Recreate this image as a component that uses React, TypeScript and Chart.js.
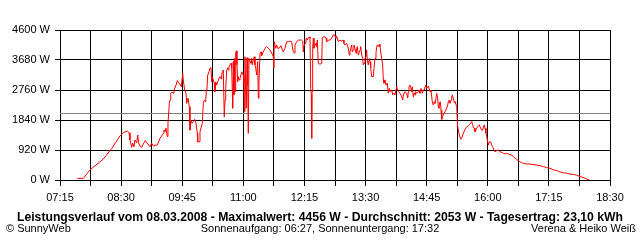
import { useEffect, useRef } from 'react';
import { Chart, registerables } from 'chart.js';

Chart.register(...registerables);

// time of day in minutes since midnight
const times = [
  456.2, 463.6, 464.5, 471.8, 488.1, 498.5, 508.6, 512.7, 517.6, 519.7, 520.9, 523.0, 524.2, 525.8, 527.0, 529.1,
  530.4, 531.6, 533.2, 535.3, 536.5, 538.1, 539.7, 541.4, 543.9, 545.5, 547.5, 549.5, 551.6, 554.4, 556.1, 557.7,
  559.8, 561.8, 562.6, 563.9, 565.1, 566.7, 567.5, 568.4, 569.1, 570.0, 570.9, 572.5, 574.0, 574.9, 577.4, 579.0,
  580.7, 582.3, 583.9, 585.6, 586.3, 588.0, 589.6, 590.5, 592.1, 593.7, 594.5, 595.4, 597.0, 598.6, 600.3, 601.9,
  603.5, 604.0, 606.0, 606.8, 608.0, 609.6, 610.9, 612.1, 613.8, 614.6, 615.4, 616.3, 617.9, 619.1, 620.3, 621.2,
  621.9, 623.1, 624.4, 625.2, 626.1, 627.3, 628.5, 630.1, 631.4, 632.6, 633.5, 634.2, 635.4, 636.6, 637.5, 638.4,
  639.6, 640.8, 641.6, 642.4, 643.6, 644.9, 645.7, 646.5, 646.9, 647.7, 648.5, 648.9, 649.8, 650.6, 651.4, 652.2,
  653.1, 653.8, 654.7, 655.9, 658.0, 660.0, 660.8, 661.2, 662.0, 662.9, 663.6, 664.5, 665.4, 666.1, 667.0, 668.2,
  669.4, 670.3, 671.0, 672.2, 673.5, 674.3, 675.2, 676.4, 677.6, 678.4, 679.2, 680.5, 681.7, 682.5, 684.5, 686.6,
  688.7, 690.6, 692.7, 694.8, 696.8, 697.3, 698.0, 699.7, 700.9, 702.9, 705.0, 706.2, 707.8, 709.1, 711.1, 713.2,
  715.2, 717.3, 719.4, 720.1, 721.3, 722.6, 723.4, 725.4, 727.5, 731.6, 732.9, 733.6, 734.5, 735.7, 736.9, 737.8,
  738.5, 739.7, 741.0, 741.8, 742.7, 743.4, 743.9, 744.3, 745.1, 745.9, 746.7, 748.0, 749.2, 750.0, 750.8, 752.0,
  754.1, 756.2, 756.9, 758.1, 760.2, 761.5, 762.3, 764.3, 766.4, 768.5, 770.4, 772.5, 773.7, 774.5, 775.3, 776.6,
  778.6, 780.7, 782.7, 783.5, 784.8, 786.9, 788.8, 790.1, 790.9, 791.8, 793.0, 793.7, 795.0, 795.8, 797.0, 798.3,
  799.1, 799.9, 801.1, 802.3, 803.2, 804.0, 805.3, 806.5, 807.2, 808.1, 809.3, 810.5, 811.3, 812.1, 813.4, 814.6,
  815.5, 816.3, 817.5, 819.5, 820.4, 821.6, 822.8, 823.7, 824.4, 825.6, 826.9, 827.7, 828.6, 829.8, 831.0, 831.8,
  832.6, 833.9, 835.1, 836.7, 837.9, 839.1, 840.0, 842.1, 843.3, 844.9, 846.1, 848.2, 849.0, 850.2, 852.3, 854.4,
  855.6, 856.3, 858.4, 860.5, 861.7, 862.5, 863.3, 864.5, 865.8, 866.6, 867.4, 868.6, 869.8, 870.7, 871.5, 872.8,
  874.7, 875.6, 876.8, 878.0, 878.9, 879.7, 880.9, 882.1, 883.0, 883.8, 885.1, 886.3, 887.0, 887.9, 889.1, 890.3,
  891.2, 891.9, 893.2, 894.4, 895.2, 896.1, 897.3, 898.5, 899.3, 900.1, 900.9, 901.7, 902.6, 903.5, 904.2, 905.4,
  906.6, 907.5, 909.6, 910.8, 911.6, 912.4, 913.6, 914.9, 915.7, 916.5, 917.7, 918.9, 919.8, 920.6, 921.9, 922.8,
  925.0, 926.8, 928.0, 929.2, 930.8, 932.1, 934.1, 936.1, 937.3, 939.1, 940.3, 941.5, 942.2, 943.1, 944.3, 945.5,
  946.4, 948.4, 949.6, 950.5, 952.5, 953.8, 954.5, 955.7, 956.6, 957.8, 958.7, 959.4, 960.7, 961.9, 963.6, 964.8,
  966.1, 967.6, 968.9, 971.0, 972.9, 975.0, 977.1, 979.1, 981.2, 983.2, 985.2, 987.3, 989.4, 991.3, 993.4, 995.5,
  997.5, 999.5, 1001.6, 1003.6, 1007.7, 1011.8, 1015.9, 1020.0, 1024.1, 1028.1, 1032.3, 1036.4, 1040.4, 1044.6,
  1048.6, 1052.7, 1056.9, 1060.9, 1065.0, 1069.1, 1073.2, 1077.2, 1081.4, 1084.6,
];

// power in W
const watts = [
  50, 50, 80, 310, 640, 970, 1350, 1450, 1500, 1450, 1230, 1000, 1130, 1020, 1230, 1140,
  1380, 1130, 1040, 1000, 1070, 1140, 1210, 1140, 1070, 1020, 1130, 1040, 1070, 1070, 1170, 1280,
  1350, 1430, 1530, 1480, 1590, 1330, 1740, 2050, 2350, 2450, 2660, 2690, 2660, 2760, 2910, 3050,
  2970, 2940, 2860, 3270, 3070, 2760, 2660, 2350, 2510, 2250, 1530, 1840, 1740, 1790, 1860, 1740,
  1430, 1170, 1170, 1480, 1590, 1740, 2350, 2450, 2400, 2760, 2810, 3220, 3320, 3430, 3440, 3010,
  3170, 3070, 2970, 2710, 3010, 2910, 3010, 3120, 3170, 3100, 3220, 3320, 3370, 1940, 2450, 2810,
  3370, 3440, 3370, 3470, 3530, 3580, 3430, 2710, 2200, 3630, 2610, 3730, 2710, 3890, 3960, 3530,
  3010, 3170, 3070, 3120, 3320, 3220, 2970, 2090, 3780, 2710, 2200, 3750, 2910, 1430, 3730, 3630,
  3580, 3730, 3530, 3680, 3780, 3530, 3430, 3220, 3630, 2510, 3010, 3890, 3930, 3810, 3930, 4040,
  4090, 4040, 3990, 3890, 3780, 3430, 4240, 4040, 4140, 4020, 4090, 4120, 3990, 3930, 4040, 4240,
  4240, 4260, 4240, 4090, 3930, 3890, 4140, 4240, 4290, 4290, 4260, 3930, 4140, 4190, 4290, 4360,
  4290, 4350, 4390, 4350, 2810, 2610, 1280, 2710, 4040, 4350, 4040, 4140, 4190, 4090, 4290, 3580,
  3550, 3580, 4350, 4390, 4390, 4350, 4240, 4290, 4290, 4350, 4456, 4430, 4350, 4390, 4360, 4240,
  4290, 4260, 4290, 4190, 4140, 4190, 4040, 3830, 3930, 4040, 4140, 3930, 3990, 4140, 4040, 3890,
  4040, 4090, 3830, 3930, 3990, 4090, 3830, 3730, 3530, 3580, 3730, 3780, 3990, 3680, 3530, 3730,
  3630, 3430, 3170, 3170, 3430, 3730, 3890, 4090, 4140, 4090, 4160, 4090, 3930, 3730, 3530, 3070,
  2970, 3070, 2910, 2970, 2660, 2810, 2710, 2760, 2610, 2660, 2610, 2860, 2810, 2710, 2660, 2550,
  2450, 2610, 2710, 2660, 2510, 2710, 2860, 2910, 2810, 2710, 2860, 2550, 2660, 2610, 2710, 2660,
  2710, 2760, 2660, 2810, 2760, 2660, 2760, 2760, 2860, 2910, 2810, 2860, 2880, 2810, 2710, 2760,
  2550, 2400, 2300, 2400, 2350, 2450, 2660, 2510, 2250, 2200, 2370, 2400, 2150, 1860, 1940, 1990,
  2050, 2090, 2200, 2300, 2400, 2450, 2350, 2450, 2550, 2610, 2510, 2370, 2400, 2350, 2250, 1690,
  1380, 1250, 1280, 1380, 1480, 1550, 1630, 1660, 1690, 1740, 1790, 1690, 1630, 1590, 1480, 1530,
  1590, 1660, 1690, 1630, 1530, 1530, 1630, 1690, 1590, 1430, 1330, 1230, 1070, 1170, 1170, 1070,
  1020, 900, 870, 900, 920, 870, 840, 820, 800, 820, 800, 770, 770, 710, 670, 630,
  590, 560, 530, 510, 490, 490, 470, 460, 440, 410, 380, 360, 310, 290,
  250, 220, 210, 180, 170, 150, 100, 80, 30, 0,
];

const averageWatts = 2053;
const xTickLabels = ['07:15', '08:30', '09:45', '11:00', '12:15', '13:30', '14:45', '16:00', '17:15', '18:30'];
const yTickValues = [0, 920, 1840, 2760, 3680, 4600];
const titleText =
  'Leistungsverlauf vom 08.03.2008 - Maximalwert: 4456 W - Durchschnitt: 2053 W - Tagesertrag: 23,10 kWh';
const footerLeft = '\u00A9 SunnyWeb';
const footerCenter = 'Sonnenaufgang: 06:27, Sonnenuntergang: 17:32';
const footerRight = 'Verena & Heiko Wei\u00DF';

const toMinutes = (s: string) => {
  const [h, m] = s.split(':').map(Number);
  return h * 60 + m;
};
const labelMinutes = xTickLabels.map(toMinutes);
const gridMinutes: number[] = [];
labelMinutes.forEach((v, i) => {
  gridMinutes.push(v);
  if (i < labelMinutes.length - 1) gridMinutes.push((v + labelMinutes[i + 1]) / 2);
});

const FONT = '"Liberation Sans", Arial, sans-serif';

// average line drawn crisp through the y scale, below the red series
const averagePlugin = {
  id: 'averageLine',
  beforeDatasetsDraw(chart: any) {
    const { ctx, chartArea, scales } = chart;
    const y = Math.round(scales.y.getPixelForValue(averageWatts)) + 0.5;
    ctx.save();
    ctx.strokeStyle = '#808080';
    ctx.lineWidth = 1;
    ctx.beginPath();
    ctx.moveTo(chartArea.left, y);
    ctx.lineTo(chartArea.right, y);
    ctx.stroke();
    ctx.restore();
  },
};

const textPlugin = {
  id: 'sunnyTexts',
  afterDraw(chart: any) {
    const ctx = chart.ctx as CanvasRenderingContext2D;
    ctx.save();
    ctx.fillStyle = '#000';
    ctx.textBaseline = 'alphabetic';
    ctx.font = `bold 12.2px ${FONT}`;
    ctx.textAlign = 'center';
    ctx.fillText(titleText, 320, 221);
    ctx.font = `11px ${FONT}`;
    ctx.textAlign = 'left';
    ctx.fillText(footerLeft, 6, 232);
    ctx.textAlign = 'center';
    ctx.fillText(footerCenter, 320, 232);
    ctx.textAlign = 'right';
    ctx.fillText(footerRight, 636, 232);
    ctx.restore();
  },
};

export default function App() {
  const ref = useRef<HTMLCanvasElement | null>(null);
  useEffect(() => {
    if (!ref.current) return;
    const series = times.map((t, i) => ({ x: t, y: watts[i] }));
    const chart = new Chart(ref.current, {
      type: 'line',
      data: {
        datasets: [
          { data: series, borderColor: '#ff0000', borderWidth: 1, pointRadius: 0, tension: 0, fill: false },
        ],
      },
      options: {
        responsive: false,
        animation: false,
        events: [],
        layout: { padding: { top: 30, right: 30, left: 0, bottom: 0 } },
        plugins: { legend: { display: false }, tooltip: { enabled: false }, title: { display: false } },
        scales: {
          x: {
            type: 'linear',
            min: labelMinutes[0],
            max: labelMinutes[labelMinutes.length - 1],
            afterBuildTicks: (scale: any) => {
              scale.ticks = gridMinutes.map((v) => ({ value: v }));
            },
            afterFit: (scale: any) => {
              scale.height = 60;
            },
            grid: { color: '#000', lineWidth: 1, tickLength: 6, drawTicks: true },
            border: { display: true, color: '#000', width: 1 },
            ticks: {
              autoSkip: false,
              maxRotation: 0,
              minRotation: 0,
              color: '#000',
              padding: 5,
              font: { family: FONT, size: 11 },
              callback: (value: any) => {
                const i = labelMinutes.indexOf(Number(value));
                return i >= 0 ? xTickLabels[i] : '';
              },
            },
          },
          y: {
            type: 'linear',
            min: yTickValues[0],
            max: yTickValues[yTickValues.length - 1],
            afterBuildTicks: (scale: any) => {
              scale.ticks = yTickValues.map((v) => ({ value: v }));
            },
            afterFit: (scale: any) => {
              scale.width = 60;
            },
            grid: { color: '#000', lineWidth: 1, tickLength: 5, drawTicks: true },
            border: { display: true, color: '#000', width: 1 },
            ticks: {
              color: '#000',
              padding: 5,
              font: { family: FONT, size: 11 },
              callback: (value: any) => `${value} W`,
            },
          },
        },
      },
      plugins: [averagePlugin, textPlugin],
    });
    return () => chart.destroy();
  }, []);
  return (
    <div style={{ position: 'absolute', left: 0, top: 0, width: 640, height: 240, background: '#fff' }}>
      <canvas ref={ref} width={640} height={240} style={{ display: 'block', width: 640, height: 240 }} />
    </div>
  );
}
